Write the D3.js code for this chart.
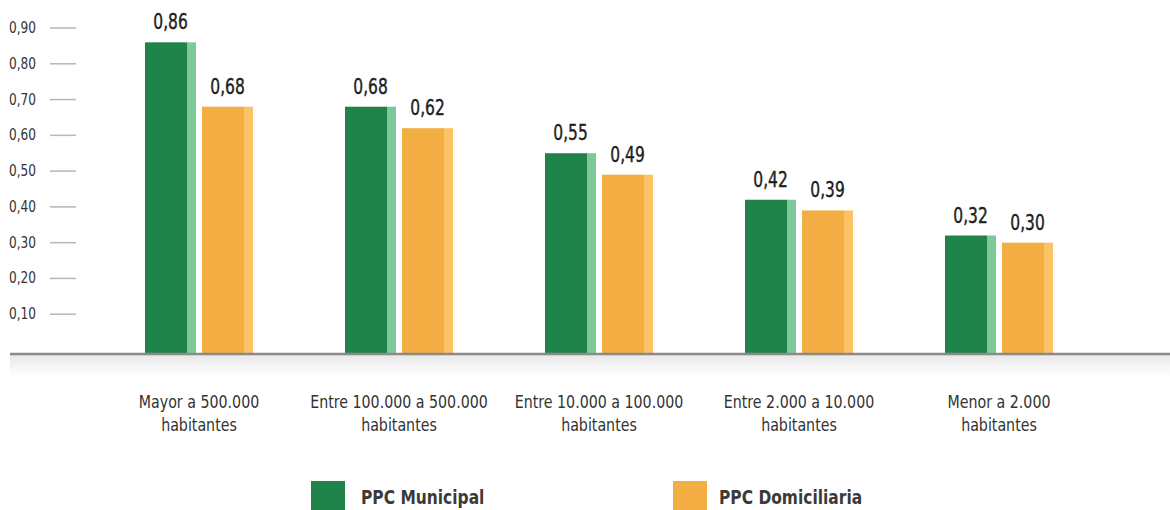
<!DOCTYPE html>
<html>
<head>
<meta charset="utf-8">
<script src="https://cdn.jsdelivr.net/npm/d3@7"></script>
<style>
  body { margin: 0; background: #fff; }
  svg { display: block; font-family: "Liberation Sans Narrow", "DejaVu Sans Condensed", sans-serif; }
</style>
</head>
<body>
<svg id="chart" width="1170" height="510"></svg>
<script>
"use strict";

// data
const categories = [
    ["Mayor a 500.000", "habitantes"],
    ["Entre 100.000 a 500.000", "habitantes"],
    ["Entre 10.000 a 100.000", "habitantes"],
    ["Entre 2.000 a 10.000", "habitantes"],
    ["Menor a 2.000", "habitantes"]
];
const municipal = [0.86, 0.68, 0.55, 0.42, 0.32];
const domiciliaria = [0.68, 0.62, 0.49, 0.39, 0.30];
const yTicks = [0.1, 0.2, 0.3, 0.4, 0.5, 0.6, 0.7, 0.8, 0.9];
const seriesNames = ["PPC Municipal", "PPC Domiciliaria"];

const svg = d3.select("#chart");
const fmt = v => d3.format(".2f")(v).replace(".", ",");

// helper: narrow text, the original uses a condensed face
function narrowText(parent, px, py, sx) {
    return parent.append("text")
        .attr("transform", "translate(" + px + "," + py + ") scale(" + sx + ",1)");
}

// scales
const y = d3.scaleLinear().domain([0, 0.9]).range([350, 28]);
const baseY = 354;
const x = d3.scaleBand()
    .domain(d3.range(categories.length))
    .range([99, 1099]);

const series = [
    { values: municipal, dark: "#20844a", light: "#7dc99a", offset: 46 },
    { values: domiciliaria, dark: "#f2ae42", light: "#fbc266", offset: 103 }
];
const barW = 42, stripW = 9;

// shadow under baseline
const defs = svg.append("defs");
const grad = defs.append("linearGradient").attr("id", "shadow")
    .attr("x1", 0).attr("y1", 0).attr("x2", 0).attr("y2", 1);
grad.append("stop").attr("offset", "0%").attr("stop-color", "#000").attr("stop-opacity", 0.09);
grad.append("stop").attr("offset", "100%").attr("stop-color", "#000").attr("stop-opacity", 0);
svg.append("rect")
    .attr("x", 10).attr("y", baseY + 1).attr("width", 1160).attr("height", 22)
    .attr("fill", "url(#shadow)");

// y axis: short tick lines + labels
const yAxis = svg.append("g");
yAxis.selectAll("line").data(yTicks).enter().append("line")
    .attr("x1", 50).attr("x2", 76)
    .attr("y1", d => y(d)).attr("y2", d => y(d))
    .attr("stroke", "#b9b6b3").attr("stroke-width", 1.5);
yTicks.forEach(d => {
    narrowText(yAxis, 36, y(d) + 5, 0.9)
        .attr("text-anchor", "end")
        .attr("font-size", 15)
        .attr("fill", "#333")
        .text(fmt(d));
});

// bars
series.forEach(s => {
    const g = svg.append("g");
    g.selectAll("rect.dark").data(s.values).enter().append("rect")
        .attr("x", (d, i) => x(i) + s.offset)
        .attr("y", d => y(d))
        .attr("width", barW)
        .attr("height", d => baseY - y(d))
        .attr("fill", s.dark);
    g.selectAll("rect.light").data(s.values).enter().append("rect")
        .attr("x", (d, i) => x(i) + s.offset + barW)
        .attr("y", d => y(d))
        .attr("width", stripW)
        .attr("height", d => baseY - y(d))
        .attr("fill", s.light);
    s.values.forEach((d, i) => {
        narrowText(g, x(i) + s.offset + (barW + stripW) / 2, y(d) - 13, 0.82)
            .attr("text-anchor", "middle")
            .attr("font-size", 21)
            .attr("fill", "#1e1e1e")
            .attr("stroke", "#1e1e1e")
            .attr("stroke-width", 0.4)
            .text(fmt(d));
    });
});

// baseline
svg.append("line")
    .attr("x1", 10).attr("x2", 1170)
    .attr("y1", baseY).attr("y2", baseY)
    .attr("stroke", "#8a8a8a").attr("stroke-width", 2.5);

// category labels
const cat = svg.append("g");
categories.forEach((lines, i) => {
    lines.forEach((l, j) => {
        narrowText(cat, x(i) + 100, 408 + j * 23, 0.93)
            .attr("text-anchor", "middle")
            .attr("font-size", 17)
            .attr("fill", "#333")
            .text(l);
    });
});

// legend
const legendX = [311, 673];
const legendTextX = [361, 719];
seriesNames.forEach((name, i) => {
    svg.append("rect")
        .attr("x", legendX[i]).attr("y", 481)
        .attr("width", 34).attr("height", 29)
        .attr("fill", series[i].dark);
    narrowText(svg, legendTextX[i], 504, 0.86)
        .attr("font-size", 20)
        .attr("font-weight", "bold")
        .attr("fill", "#3a3a3a")
        .text(name);
});
</script>
</body>
</html>
